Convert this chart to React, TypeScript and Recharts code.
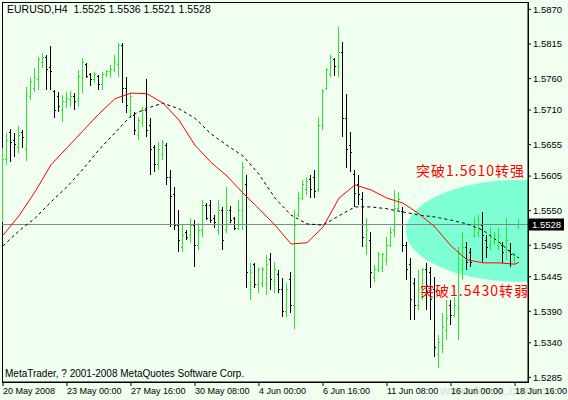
import {
  Bar,
  ComposedChart,
  Line,
  ReferenceArea,
  ReferenceDot,
  ReferenceLine,
  XAxis,
  YAxis,
} from "recharts";

// EURUSD H4 bars
const OPEN = [
  1.5559, 1.5631, 1.5674, 1.5662, 1.565, 1.5674, 1.5647, 1.5732, 1.5745, 1.5758,
  1.5786, 1.5793, 1.5777, 1.574, 1.5732, 1.571, 1.5723, 1.5726, 1.5732, 1.5726,
  1.5761, 1.5782, 1.5766, 1.5758, 1.5763, 1.575, 1.5766, 1.5771, 1.5774, 1.5782,
  1.5813, 1.5745, 1.571, 1.5702, 1.567, 1.5691, 1.571, 1.5686, 1.565, 1.5623,
  1.5639, 1.5653, 1.5602, 1.5575, 1.5526, 1.5491, 1.5515, 1.551, 1.5527, 1.5495,
  1.5519, 1.5559, 1.5559, 1.5538, 1.5519, 1.5551, 1.5519, 1.5551, 1.5538, 1.5522,
  1.5551, 1.5591, 1.5424, 1.5464, 1.5432, 1.5435, 1.5432, 1.5472, 1.5437, 1.5448,
  1.5424, 1.5389, 1.544, 1.54, 1.5543, 1.557, 1.5583, 1.5599, 1.5602, 1.5583,
  1.5686, 1.5745, 1.5766, 1.579, 1.5779, 1.5802, 1.5697, 1.5654, 1.5607, 1.5591,
  1.5567, 1.5495, 1.5503, 1.5443, 1.5456, 1.5459, 1.5472, 1.5495, 1.5519, 1.5554,
  1.5548, 1.5495, 1.5464, 1.5435, 1.54, 1.5416, 1.5456, 1.5452, 1.5424, 1.5321,
  1.5336, 1.536, 1.54, 1.5384, 1.5395, 1.5456, 1.5491, 1.5484, 1.5511, 1.5516,
  1.5527, 1.5503, 1.5495, 1.55, 1.5495, 1.5495, 1.5487, 1.5487, 1.5472, 1.5525,
];
const HIGH = [
  1.565, 1.5674, 1.568, 1.5674, 1.5685, 1.5678, 1.5747, 1.5763, 1.5777, 1.5794,
  1.5801, 1.5798, 1.5812, 1.5742, 1.5739, 1.5734, 1.5739, 1.574, 1.5737, 1.5774,
  1.5793, 1.5785, 1.5769, 1.5771, 1.5766, 1.5771, 1.5774, 1.5782, 1.5798, 1.5817,
  1.5817, 1.5763, 1.5737, 1.5707, 1.5699, 1.5715, 1.5759, 1.5697, 1.5654, 1.5659,
  1.5662, 1.5658, 1.5615, 1.5588, 1.5551, 1.5527, 1.5519, 1.5538, 1.5535, 1.553,
  1.5567, 1.5562, 1.5567, 1.5543, 1.5567, 1.5556, 1.5588, 1.5557, 1.554, 1.5567,
  1.5627, 1.5607, 1.5467, 1.5467, 1.5459, 1.546, 1.548, 1.5483, 1.5468, 1.5456,
  1.5443, 1.5435, 1.5452, 1.5551, 1.558, 1.5599, 1.5602, 1.5607, 1.5615, 1.5699,
  1.5744, 1.5777, 1.5798, 1.5793, 1.5842, 1.5818, 1.5736, 1.5675, 1.5615, 1.5607,
  1.558, 1.5538, 1.5516, 1.5464, 1.5484, 1.5483, 1.5508, 1.5524, 1.5583, 1.558,
  1.5556, 1.55, 1.5475, 1.5443, 1.5456, 1.5459, 1.5467, 1.546, 1.5445, 1.5352,
  1.5387, 1.5408, 1.5408, 1.5413, 1.5492, 1.5516, 1.55, 1.5491, 1.554, 1.5543,
  1.5548, 1.5511, 1.5524, 1.5516, 1.5522, 1.55, 1.5538, 1.5499, 1.5484, 1.5536,
];
const LOW = [
  1.5532, 1.5623, 1.5627, 1.5635, 1.5642, 1.565, 1.5629, 1.5726, 1.5739, 1.5742,
  1.5777, 1.5742, 1.5742, 1.5697, 1.5707, 1.5691, 1.5713, 1.5715, 1.571, 1.5715,
  1.5737, 1.5761, 1.5748, 1.5753, 1.5742, 1.5742, 1.5763, 1.5761, 1.5771, 1.5763,
  1.5721, 1.5705, 1.5697, 1.567, 1.5662, 1.5683, 1.5667, 1.5607, 1.5611, 1.5615,
  1.5631, 1.5591, 1.5524, 1.5519, 1.5484, 1.5484, 1.5503, 1.5499, 1.546, 1.5487,
  1.5508, 1.5535, 1.553, 1.5522, 1.5511, 1.5487, 1.5515, 1.553, 1.5519, 1.5519,
  1.5519, 1.5427, 1.5408, 1.5427, 1.5419, 1.5429, 1.5416, 1.5424, 1.5419, 1.5419,
  1.5381, 1.5381, 1.5387, 1.5362, 1.554, 1.5567, 1.5575, 1.557, 1.557, 1.558,
  1.5678, 1.5742, 1.5763, 1.5764, 1.5763, 1.5667, 1.5618, 1.5611, 1.5556, 1.5559,
  1.5492, 1.548, 1.5427, 1.5437, 1.5452, 1.5452, 1.5464, 1.5492, 1.5508, 1.5551,
  1.5484, 1.544, 1.5376, 1.5376, 1.5392, 1.5408, 1.5392, 1.5376, 1.5317, 1.53,
  1.5324, 1.5344, 1.5368, 1.5381, 1.5344, 1.544, 1.5456, 1.546, 1.5507, 1.5508,
  1.5468, 1.5475, 1.5487, 1.5495, 1.5487, 1.5467, 1.5472, 1.546, 1.5467, 1.5521,
];
const CLOSE = [
  1.5631, 1.5662, 1.5659, 1.5656, 1.567, 1.5667, 1.5734, 1.5755, 1.5761, 1.5791,
  1.5793, 1.5775, 1.5772, 1.571, 1.5716, 1.5724, 1.5728, 1.5731, 1.5723, 1.5763,
  1.5786, 1.5763, 1.5758, 1.5766, 1.575, 1.5767, 1.5771, 1.5774, 1.5786, 1.5813,
  1.5745, 1.5718, 1.5732, 1.5678, 1.5694, 1.571, 1.5678, 1.5647, 1.5623, 1.5647,
  1.5658, 1.5602, 1.5572, 1.5526, 1.5503, 1.551, 1.5508, 1.5527, 1.5495, 1.5519,
  1.5559, 1.5538, 1.5535, 1.5532, 1.5551, 1.5503, 1.5551, 1.5535, 1.5522, 1.5551,
  1.5618, 1.5451, 1.5451, 1.5432, 1.5456, 1.5456, 1.5464, 1.544, 1.5456, 1.5424,
  1.5389, 1.5424, 1.54, 1.5527, 1.557, 1.5591, 1.5596, 1.5583, 1.558, 1.5686,
  1.5739, 1.5774, 1.5793, 1.5779, 1.5802, 1.5697, 1.5647, 1.5642, 1.5578, 1.5575,
  1.5507, 1.5519, 1.5451, 1.5456, 1.548, 1.548, 1.5495, 1.5516, 1.5554, 1.5567,
  1.5495, 1.5456, 1.5408, 1.54, 1.5424, 1.5456, 1.5421, 1.5408, 1.5333, 1.534,
  1.5364, 1.5379, 1.5384, 1.5399, 1.548, 1.5491, 1.5468, 1.5468, 1.5524, 1.5522,
  1.5511, 1.5492, 1.5508, 1.551, 1.5511, 1.5483, 1.5503, 1.548, 1.548, 1.5528,
];

// moving averages, sampled every 4th bar
const MA_AT = [
  0, 4, 8, 12, 16, 20, 24, 28, 32, 36, 40, 44, 48, 52, 56, 60, 64,
  68, 72, 76, 80, 84, 88, 92, 96, 100, 104, 108, 112, 116, 120, 124, 128, 129,
];
const MA_FAST = [
  1.5511, 1.5542, 1.558, 1.5623, 1.565, 1.5677, 1.5704, 1.5728, 1.5737, 1.5736, 1.5721, 1.5694,
  1.5654, 1.5627, 1.5605, 1.5578, 1.5553, 1.5527, 1.5497, 1.5499, 1.5524, 1.557, 1.5591, 1.5583,
  1.557, 1.5562, 1.5545, 1.5524, 1.5494, 1.5472, 1.5467, 1.5467, 1.5465, 1.5468,
];
const MA_SLOW = [
  1.5494, 1.5518, 1.5538, 1.5564, 1.5588, 1.5616, 1.5647, 1.5674, 1.5701, 1.5713, 1.5721, 1.5712,
  1.5697, 1.5672, 1.5654, 1.5637, 1.5608, 1.557, 1.5543, 1.5529, 1.5527, 1.5542, 1.5556, 1.5556,
  1.5553, 1.5548, 1.5543, 1.554, 1.5535, 1.5529, 1.5519, 1.55, 1.5478, 1.5475,
];

const TIME_TICKS = [0, 16, 32, 48, 64, 80, 96, 112, 128];
const TIME_LABELS = [
  "20 May 2008", "23 May 00:00", "27 May 16:00", "30 May 08:00", "4 Jun 00:00",
  "6 Jun 16:00", "11 Jun 08:00", "16 Jun 00:00", "18 Jun 16:00",
];
const PRICE_TICKS = [
  1.587, 1.5815, 1.576, 1.571, 1.5655, 1.5605, 1.555, 1.5495, 1.5445, 1.539, 1.534, 1.5285,
];
const LAST_PRICE = 1.5528;

// hand-drawn breakout zone and notes
const ZONE = { x1: 100.75, x2: 157.75, y1: 1.5437, y2: 1.5599 };
const NOTES = [
  { text: "突破1.5610转强", at: 103.25, price: 1.5605 },
  { text: "突破1.5430转弱", at: 104.25, price: 1.5414 },
];

const X_DOMAIN = [-0.25, 131.25];
const Y_DOMAIN = [1.52776, 1.58818];
const FONT = "'Liberation Sans', Arial, sans-serif";
const BG = "#f0fff0";
const UP = "#2ee62e";

const data = OPEN.map((open, i) => {
  const k = MA_AT.indexOf(i);
  return {
    i,
    open,
    high: HIGH[i],
    low: LOW[i],
    close: CLOSE[i],
    range: [LOW[i], HIGH[i]],
    fast: k >= 0 ? MA_FAST[k] : null,
    slow: k >= 0 ? MA_SLOW[k] : null,
  };
});

function OhlcBar(props: any) {
  const { x, y, width, height, payload } = props;
  if (x == null || y == null || !payload) return null;
  const px = Math.floor(x + width / 2 + 0.01);
  const span = payload.high - payload.low || 1;
  const yOf = (v: number) => y + ((payload.high - v) / span) * height;
  const color = payload.close >= payload.open ? UP : "#000";
  const top = Math.round(y);
  const bottom = Math.max(top + 1, Math.round(y + height));
  const yo = Math.min(bottom - 1, Math.floor(yOf(payload.open)));
  const yc = Math.min(bottom - 1, Math.floor(yOf(payload.close)));
  return (
    <g shapeRendering="crispEdges" fill={color}>
      <rect x={px} y={top} width={1} height={bottom - top} />
      <rect x={px - 1} y={yo} width={1} height={1} />
      <rect x={px + 1} y={yc} width={1} height={1} />
    </g>
  );
}

function Ellipse(props: any) {
  const { x, y, width, height, clipPath } = props;
  return (
    <ellipse
      cx={x + width / 2}
      cy={y + height / 2}
      rx={Math.abs(width) / 2}
      ry={Math.abs(height) / 2}
      fill="#7fffd4"
      clipPath={clipPath}
    />
  );
}

function PriceTag(props: any) {
  const vb = props.viewBox;
  if (!vb) return null;
  const left = vb.x + vb.width + 1;
  return (
    <g>
      <rect x={left} y={vb.y - 6} width={35} height={12} fill="#000" />
      <text x={left + 3} y={vb.y + 3.5} fill="#fff" fontSize={9.5} fontFamily={FONT}>
        {LAST_PRICE.toFixed(4)}
      </text>
    </g>
  );
}

export default function App() {
  return (
    <div
      style={{
        position: "absolute",
        left: 0,
        top: 0,
        width: 568,
        height: 400,
        background: BG,
        fontFamily: FONT,
      }}
    >
      <div
        style={{
          position: "absolute",
          left: 440,
          top: 383,
          fontSize: 13,
          fontWeight: "bold",
          color: "#dde6dd",
          whiteSpace: "pre",
        }}
      >
        www.forex.com.cn
      </div>
      <ComposedChart
        width={568}
        height={400}
        data={data}
        margin={{ top: 2, right: 0, bottom: 0, left: 2 }}
      >
        <ReferenceArea
          x1={ZONE.x1}
          x2={ZONE.x2}
          y1={ZONE.y1}
          y2={ZONE.y2}
          ifOverflow="hidden"
          shape={Ellipse}
        />
        <ReferenceLine y={LAST_PRICE} stroke="#7a8a8a" label={{ content: PriceTag }} />
        <XAxis
          dataKey="i"
          type="number"
          domain={X_DOMAIN}
          allowDataOverflow
          ticks={TIME_TICKS}
          interval={0}
          height={18}
          tickSize={4}
          tickMargin={2}
          axisLine={{ stroke: "#000" }}
          tickLine={{ stroke: "#000" }}
          tickFormatter={(v) => TIME_LABELS[TIME_TICKS.indexOf(v)]}
          tick={{ fill: "#000", fontSize: 9, fontFamily: FONT, textAnchor: "start" }}
        />
        <YAxis
          orientation="right"
          type="number"
          domain={Y_DOMAIN}
          allowDataOverflow
          ticks={PRICE_TICKS}
          interval={0}
          width={40}
          tickSize={3}
          tickMargin={2}
          axisLine={{ stroke: "#000" }}
          tickLine={{ stroke: "#000" }}
          tickFormatter={(v) => v.toFixed(4)}
          tick={{ fill: "#000", fontSize: 9.5, fontFamily: FONT }}
        />
        <Bar dataKey="range" barCategoryGap={0} shape={OhlcBar} isAnimationActive={false} />
        <Line
          dataKey="slow"
          stroke="#000"
          strokeWidth={1}
          strokeDasharray="3 3"
          dot={false}
          connectNulls
          isAnimationActive={false}
        />
        <Line
          dataKey="fast"
          stroke="#ff0000"
          strokeWidth={1}
          dot={false}
          connectNulls
          isAnimationActive={false}
        />
        {NOTES.map((n) => (
          <ReferenceDot
            key={n.text}
            x={n.at}
            y={n.price}
            r={0}
            shape={(p: any) => (
              <text
                x={p.cx}
                y={p.cy}
                fill="#ff0000"
                fontSize={14}
                fontFamily="'Noto Sans CJK SC', sans-serif"
                textLength={108}
                lengthAdjust="spacing"
              >
                {n.text}
              </text>
            )}
          />
        ))}
        <ReferenceArea
          x1={X_DOMAIN[0]}
          x2={X_DOMAIN[1]}
          y1={Y_DOMAIN[0]}
          y2={Y_DOMAIN[1]}
          fill="none"
          stroke="#000"
          shapeRendering="crispEdges"
        />
      </ComposedChart>
      <div style={{ position: "absolute", left: 7, top: 3, fontSize: 10.5, color: "#000", whiteSpace: "pre" }}>
        EURUSD,H4  1.5525 1.5536 1.5521 1.5528
      </div>
      <div style={{ position: "absolute", left: 5, top: 368, fontSize: 10, color: "#000", whiteSpace: "pre" }}>
        MetaTrader, ? 2001-2008 MetaQuotes Software Corp.
      </div>
    </div>
  );
}
